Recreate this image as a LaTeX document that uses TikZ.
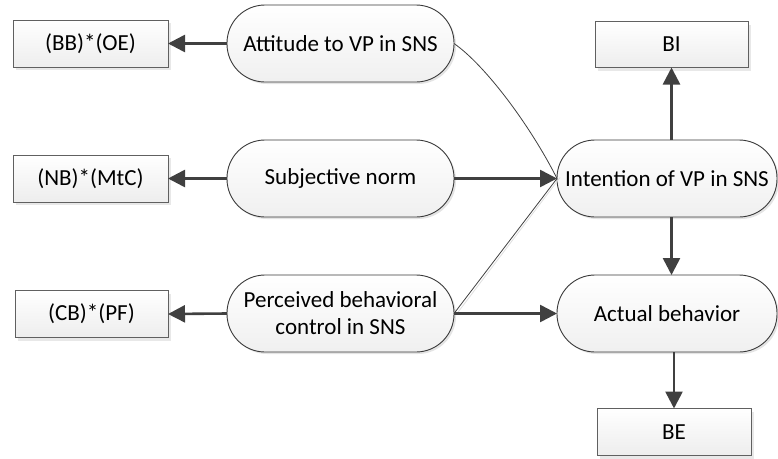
\documentclass[tikz,border=0pt]{standalone}
\usepackage{fontspec}
\setmainfont{Carlito}
\usetikzlibrary{arrows.meta,shadows}
\definecolor{arr}{HTML}{404040}
\definecolor{edge}{HTML}{3A3A3A}
\tikzset{
  pill/.style={draw=edge, line width=0.9pt, rounded corners=38pt, minimum width=227pt, minimum height=77pt,
    inner sep=0pt, outer sep=0pt, top color=white, bottom color=gray!12, align=center,
    drop shadow={shadow xshift=2pt, shadow yshift=-2pt, fill=gray!35, opacity=0.6}},
  valbox/.style={draw=gray!75!black, line width=0.8pt, minimum width=155pt, minimum height=47pt,
    inner sep=0pt, outer sep=0pt, top color=white, bottom color=gray!14,
    drop shadow={shadow xshift=3pt, shadow yshift=-3pt, fill=gray!30, opacity=0.6}},
  thickarrow/.style={draw=arr, line width=2.6pt, -{Triangle[length=17pt,width=17pt]}},
  thinline/.style={draw=arr, line width=0.8pt},
}
\begin{document}
\begin{tikzpicture}[x=1pt,y=-1pt, font=\fontsize{23}{27}\selectfont]
\useasboundingbox (0,0) rectangle (778,458);
% pills
\node[pill] (att) at (340.5,43.5) {Attitude to VP in SNS};
\node[pill] (sub) at (340.5,178.5) {Subjective norm};
\node[pill] (per) at (340.5,313.5) {Perceived behavioral\\control in SNS};
\node[pill, minimum width=220pt] (int) at (667,178.5) {Intention of VP in SNS};
\node[pill, minimum width=220pt] (act) at (667,313.5) {Actual behavior};
% boxes
\node[valbox] (bb) at (90.5,43.5) {(BB)*(OE)};
\node[valbox] (nb) at (90.5,178.5) {(NB)*(MtC)};
\node[valbox, minimum width=153pt] (cb) at (91.5,314) {(CB)*(PF)};
\node[valbox, minimum width=153pt, minimum height=46pt] (bi) at (671.5,44.5) {BI};
\node[valbox, minimum width=154pt] (be) at (674,432) {BE};
% connectors
\draw[thickarrow] (att.west) -- (bb.east);
\draw[thickarrow] (sub.west) -- (nb.east);
\draw[thickarrow] (per.west) -- (cb.east);
\draw[draw=gray!25, line width=0.8pt] ([xshift=3pt]per.east) -- ([xshift=3pt,yshift=1pt]int.west);
\draw[thinline] (per.east) -- (int.west);
\draw[thinline] (att.east) .. controls (485,65) and (530,125) .. (int.west);
\draw[thickarrow] (sub.east) -- (int.west);
\draw[thickarrow] (per.east) -- (act.west);
\draw[thickarrow] (bi.south |- int.north) -- (bi.south);
\draw[thickarrow] (bi.south |- int.south) -- (bi.south |- act.north);
\draw[thickarrow] (be.north |- act.south) -- (be.north);
\end{tikzpicture}
\end{document}
